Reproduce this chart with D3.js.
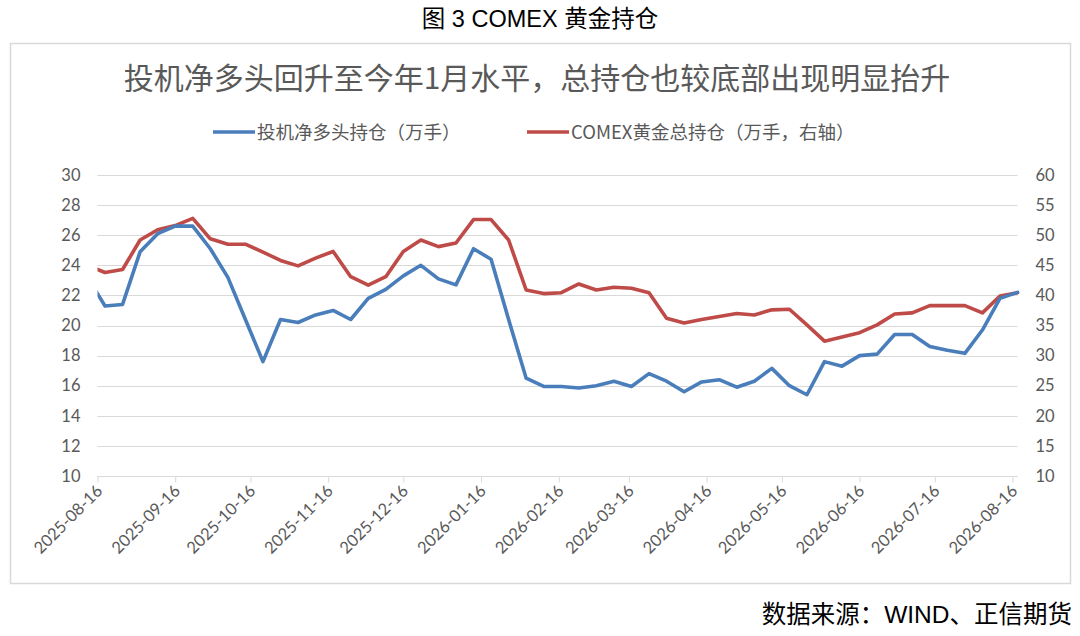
<!DOCTYPE html>
<html>
<head>
<meta charset="utf-8">
<script src="https://cdn.jsdelivr.net/npm/d3@7/dist/d3.min.js"></script>
<style>
  html, body { margin: 0; padding: 0; background: #ffffff; }
  svg { display: block; }
</style>
</head>
<body>
<svg id="chart" width="1080" height="636"></svg>
<script>
// ---------------- DATA ----------------
const dates = [
  "2025-08-12","2025-08-19","2025-08-26","2025-09-02","2025-09-09","2025-09-16","2025-09-23","2025-09-30",
  "2025-10-07","2025-10-14","2025-10-21","2025-10-28","2025-11-04","2025-11-11","2025-11-18","2025-11-25",
  "2025-12-02","2025-12-09","2025-12-16","2025-12-23","2025-12-30","2026-01-06","2026-01-13","2026-01-20",
  "2026-01-27","2026-02-03","2026-02-10","2026-02-17","2026-02-24","2026-03-03","2026-03-10","2026-03-17",
  "2026-03-24","2026-03-31","2026-04-07","2026-04-14","2026-04-21","2026-04-28","2026-05-05","2026-05-12",
  "2026-05-19","2026-05-26","2026-06-02","2026-06-09","2026-06-16","2026-06-23","2026-06-30","2026-07-07",
  "2026-07-14","2026-07-21","2026-07-28","2026-08-04","2026-08-11","2026-08-18"
];
// 投机净多头持仓（万手） - left axis
const netLong = [
  23.2, 21.3, 21.4, 24.9, 26.1, 26.6, 26.6, 25.1,
  23.2, 20.4, 17.6, 20.4, 20.2, 20.7, 21.0, 20.4,
  21.8, 22.4, 23.3, 24.0, 23.1, 22.7, 25.1, 24.4,
  20.4, 16.5, 15.95, 15.95, 15.85, 16.0, 16.3, 15.95,
  16.8, 16.3, 15.6, 16.25, 16.4, 15.9, 16.3, 17.15,
  16.0, 15.4, 17.6, 17.3, 18.0, 18.1, 19.4, 19.4,
  18.6, 18.35, 18.15, 19.7, 21.8, 22.2
];
// COMEX黄金总持仓（万手，右轴） - right axis
const totalOI = [
  45.0, 43.8, 44.3, 49.2, 50.9, 51.6, 52.8, 49.4,
  48.5, 48.5, 47.2, 45.8, 44.9, 46.2, 47.3, 43.1,
  41.7, 43.1, 47.3, 49.2, 48.1, 48.7, 52.6, 52.6,
  49.2, 40.9, 40.3, 40.45, 41.9, 40.9, 41.35, 41.2,
  40.45, 36.2, 35.4, 36.0, 36.5, 37.0, 36.75, 37.6,
  37.7, 35.1, 32.4, 33.1, 33.8, 35.1, 36.9, 37.1,
  38.3, 38.3, 38.3, 37.1, 39.9, 40.45
];
const xTickLabels = [
  "2025-08-16","2025-09-16","2025-10-16","2025-11-16","2025-12-16","2026-01-16","2026-02-16",
  "2026-03-16","2026-04-16","2026-05-16","2026-06-16","2026-07-16","2026-08-16"
];
const leftTicks = [10, 12, 14, 16, 18, 20, 22, 24, 26, 28, 30];
const rightTicks = [10, 15, 20, 25, 30, 35, 40, 45, 50, 55, 60];
const xDomain = ["2025-08-16", "2026-08-18"];
const seriesNames = ["投机净多头持仓（万手）", "COMEX黄金总持仓（万手，右轴）"];
const chartTitle = "投机净多头回升至今年1月水平，总持仓也较底部出现明显抬升";
const figCaption = "图 3 COMEX 黄金持仓";
const sourceNote = "数据来源：WIND、正信期货";

// ---------------- DRAW ----------------
const parse = d3.timeParse("%Y-%m-%d");
const svg = d3.select("#chart");
const cjk = "'Noto Sans CJK SC', 'Noto Sans', sans-serif";
const num = "Lato, 'Open Sans', 'Noto Sans', sans-serif";
const gray = "#595959";

const plot = { left: 97.5, right: 1017.5, top: 175, bottom: 476 };

const x = d3.scaleTime().domain(xDomain.map(parse)).range([plot.left, plot.right]);
const yL = d3.scaleLinear().domain([10, 30]).range([plot.bottom, plot.top]);
const yR = d3.scaleLinear().domain([10, 60]).range([plot.bottom, plot.top]);

// caption
svg.append("text").attr("x", 540).attr("y", 27).attr("text-anchor", "middle")
  .attr("font-family", "'Liberation Sans', 'Noto Sans CJK SC', sans-serif")
  .attr("font-size", 23.5).attr("fill", "#000").text(figCaption);

// chart border
svg.append("rect").attr("x", 10.5).attr("y", 43.5).attr("width", 1060).attr("height", 540)
  .attr("fill", "#fff").attr("stroke", "#d9d9d9").attr("stroke-width", 1.5);

// title
svg.append("text").attr("x", 537).attr("y", 89).attr("text-anchor", "middle")
  .attr("font-family", cjk).attr("font-size", 30).attr("fill", gray).text(chartTitle);

// legend
const legendItems = [
  { name: seriesNames[0], color: "#4a7ebb", x: 213 },
  { name: seriesNames[1], color: "#be4b48", x: 527 }
];
const lg = svg.append("g");
legendItems.forEach(it => {
  lg.append("line").attr("x1", it.x).attr("x2", it.x + 42).attr("y1", 132).attr("y2", 132)
    .attr("stroke", it.color).attr("stroke-width", 3.5);
  lg.append("text").attr("x", it.x + 44).attr("y", 138.5).attr("font-family", cjk)
    .attr("font-size", 18.5).attr("fill", gray).text(it.name);
});

// gridlines
svg.append("g").selectAll("line").data(leftTicks).join("line")
  .attr("x1", plot.left).attr("x2", plot.right)
  .attr("y1", d => Math.round(yL(d)) + 0.5).attr("y2", d => Math.round(yL(d)) + 0.5)
  .attr("stroke", "#d9d9d9").attr("stroke-width", 1);

// left axis
const axL = d3.axisLeft(yL).tickValues(leftTicks).tickSize(0).tickPadding(17);
const gL = svg.append("g").attr("transform", `translate(${plot.left},0)`).call(axL);
gL.select(".domain").remove();
gL.selectAll("text").attr("font-family", num).attr("font-size", 16.5).attr("fill", gray);

// right axis
const axR = d3.axisRight(yR).tickValues(rightTicks).tickSize(0).tickPadding(18);
const gR = svg.append("g").attr("transform", `translate(${plot.right},0)`).call(axR);
gR.select(".domain").remove();
gR.selectAll("text").attr("font-family", num).attr("font-size", 16.5).attr("fill", gray);

// bottom axis
const axB = d3.axisBottom(x).tickValues(xTickLabels.map(parse)).tickSize(6).tickPadding(4)
  .tickFormat(d3.timeFormat("%Y-%m-%d"));
const gB = svg.append("g").attr("transform", `translate(0,${Math.round(plot.bottom) + 0.5})`).call(axB);
gB.select(".domain").attr("stroke", "#d9d9d9").attr("stroke-width", 1)
  .attr("d", `M${plot.left},0H${plot.right}`);
gB.selectAll(".tick line").attr("stroke", "#d9d9d9");
gB.selectAll("text").attr("font-family", num).attr("font-size", 16.5).attr("fill", gray)
  .attr("text-anchor", "end").attr("x", -7).attr("y", 9).attr("dx", 0).attr("dy", "0.35em")
  .attr("transform", "rotate(-45)");

// clip
svg.append("clipPath").attr("id", "clip").append("rect")
  .attr("x", plot.left).attr("y", 0).attr("width", plot.right - plot.left + 3).attr("height", 636);

const rows = dates.map((d, i) => ({ date: parse(d), a: netLong[i], b: totalOI[i] }));

const lineA = d3.line().x(d => x(d.date)).y(d => yL(d.a));
const lineB = d3.line().x(d => x(d.date)).y(d => yR(d.b));

const gLines = svg.append("g").attr("clip-path", "url(#clip)");
gLines.append("path").datum(rows).attr("d", lineB).attr("fill", "none")
  .attr("stroke", "#be4b48").attr("stroke-width", 3.6).attr("stroke-linejoin", "round").attr("stroke-linecap", "round");
gLines.append("path").datum(rows).attr("d", lineA).attr("fill", "none")
  .attr("stroke", "#4a7ebb").attr("stroke-width", 3.6).attr("stroke-linejoin", "round").attr("stroke-linecap", "round");

// source
svg.append("text").attr("x", 1072).attr("y", 623).attr("text-anchor", "end")
  .attr("font-family", "'Liberation Sans', 'Noto Sans CJK SC', sans-serif")
  .attr("font-size", 24.5).attr("fill", "#000").text(sourceNote);
</script>
</body>
</html>
